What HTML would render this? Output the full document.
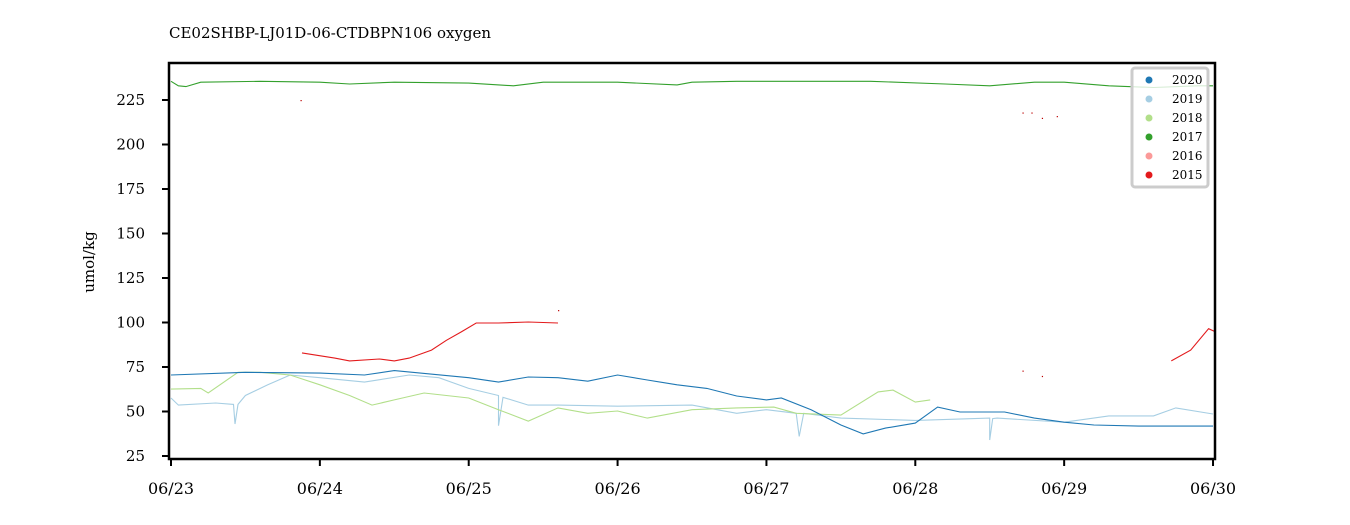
<!DOCTYPE html>
<html><head><meta charset="utf-8"><style>
body{margin:0;background:#fff;}
svg{display:block;font-family:"DejaVu Serif","Liberation Serif",serif;}
</style></head><body>
<svg id="chart" width="1350" height="525">
<text x="169" y="38" font-size="15">CE02SHBP-LJ01D-06-CTDBPN106 oxygen</text>
<text transform="translate(94,262) rotate(-90)" font-size="15" text-anchor="middle">umol/kg</text>
<g id="series"></g>
<rect x="169" y="63" width="1046" height="396" fill="none" stroke="#000" stroke-width="2.5"/>
<g id="axes"></g>
<g>
<rect x="1132" y="68" width="76" height="119" rx="3" fill="#fff" fill-opacity="0.8" stroke="#ccc" stroke-width="3"/>
<g id="legend"></g>
</g>
</svg>
<script>
const yTicks=[25,50,75,100,125,150,175,200,225];
const xTickLabels=["06/23","06/24","06/25","06/26","06/27","06/28","06/29","06/30"];
const legendYears=["2020","2019","2018","2017","2016","2015"];
const legendColors=["#1f78b4","#a6cee3","#b2df8a","#33a02c","#fb9a99","#e31a1c"];
// times in days since 06/23
const t2020=[0,0.5,1,1.3,1.5,2,2.2,2.4,2.6,2.8,3,3.2,3.4,3.6,3.8,4,4.1,4.3,4.5,4.65,4.8,5,5.15,5.3,5.6,5.8,6,6.2,6.5,7];
const v2020=[70.5,72,71.6,70.5,73,69,66.5,69.4,69,67,70.5,67.7,65,63,58.7,56.5,57.6,51,42.4,37.4,40.7,43.5,52.5,49.7,49.7,46.3,44,42.4,41.8,41.8];
const t2019=[0,0.05,0.3,0.42,0.43,0.45,0.5,0.65,0.8,1,1.3,1.6,1.8,2,2.2,2.2,2.23,2.4,2.6,3,3.5,3.8,4,4.2,4.22,4.25,4.5,5,5.5,5.5,5.52,5.55,6,6.3,6.6,6.75,7];
const v2019=[57.6,53.6,54.8,54,43,54,59,65,70.5,69,66.5,70.5,69,63,59,42,58,53.6,53.6,53,53.6,49,51,49,36,49,46.3,45,46.3,34,46,46.3,44,47.5,47.5,52,48.6];
const t2018=[0,0.2,0.25,0.45,0.6,0.8,1,1.2,1.35,1.5,1.7,2,2.2,2.4,2.6,2.8,3,3.2,3.5,3.8,4.05,4.2,4.5,4.75,4.85,5,5.1];
const v2018=[62.6,63,60.4,72,72,70.5,65,59,53.6,56.5,60.4,57.6,51,44.6,52,49,50.3,46.3,51,52,52.5,49,48,61,62,55.3,56.5];
const t2017=[0,0.05,0.1,0.2,0.6,1,1.2,1.5,2,2.3,2.5,3,3.4,3.5,3.8,4,4.7,5.2,5.5,5.8,6,6.3,6.6,6.9,7];
const v2017=[235.5,233,232.5,235,235.5,235,234,235,234.5,233,235,235,233.5,235,235.5,235.5,235.5,234,233,235,235,233,232,233,233];
const t2015a=[0.88,1.1,1.2,1.4,1.5,1.6,1.75,1.85,1.95,2.05,2.2,2.4,2.6];
const v2015a=[82.9,80,78.4,79.5,78.4,80,84.5,90,94.7,99.7,99.7,100.3,99.7];
const t2015b=[6.72,6.85,6.97,7.01];
const v2015b=[78.4,84.5,96.5,95];
const t2015pts=[0.87,2.6,5.72,5.78,5.85,5.95,5.72,5.85];
const v2015pts=[225,107,218,218,215,216,73,70];
const NS="http://www.w3.org/2000/svg";
const X=d=>171+d*148.86, Y=v=>456-(v-25)*1.78;
const ser=document.getElementById('series'),ax=document.getElementById('axes'),lg=document.getElementById('legend');
function line(ts,vs,col,name){const p=document.createElementNS(NS,'polyline');
p.setAttribute('points',ts.map((t,i)=>X(t).toFixed(1)+','+Y(vs[i]).toFixed(1)).join(' '));
p.setAttribute('fill','none');p.setAttribute('stroke',col);p.setAttribute('stroke-width','1.1');


ser.appendChild(p);}
line(t2019,v2019,'#a6cee3','series-2019');
line(t2018,v2018,'#b2df8a','series-2018');
line(t2020,v2020,'#1f78b4','series-2020');
line(t2017,v2017,'#33a02c','series-2017');
line(t2015a,v2015a,'#e31a1c','series-2015-a');
line(t2015b,v2015b,'#e31a1c','series-2015-b');
t2015pts.forEach((t,i)=>{const r=document.createElementNS(NS,'rect');r.setAttribute('x',X(t));r.setAttribute('y',Y(v2015pts[i]));r.setAttribute('width',1.2);r.setAttribute('height',1.2);r.setAttribute('fill','#b00');


ser.appendChild(r);});
yTicks.forEach(v=>{const y=Y(v);const l=document.createElementNS(NS,'line');l.setAttribute('x1',162);l.setAttribute('x2',169);l.setAttribute('y1',y);l.setAttribute('y2',y);l.setAttribute('stroke','#000');l.setAttribute('stroke-width','2');


ax.appendChild(l);
const tx=document.createElementNS(NS,'text');tx.setAttribute('x',145);tx.setAttribute('y',y+5);tx.setAttribute('text-anchor','end');tx.setAttribute('font-size','15');tx.textContent=v;


ax.appendChild(tx);});
xTickLabels.forEach((s,i)=>{const x=X(i);const l=document.createElementNS(NS,'line');l.setAttribute('x1',x);l.setAttribute('x2',x);l.setAttribute('y1',459);l.setAttribute('y2',466);l.setAttribute('stroke','#000');l.setAttribute('stroke-width','2');


ax.appendChild(l);
const tx=document.createElementNS(NS,'text');tx.setAttribute('x',x);tx.setAttribute('y',494);tx.setAttribute('text-anchor','middle');tx.setAttribute('font-size','16');tx.textContent=s;


ax.appendChild(tx);});
legendYears.forEach((s,i)=>{const y=80+i*19;const c=document.createElementNS(NS,'circle');c.setAttribute('cx',1149);c.setAttribute('cy',y);c.setAttribute('r',3.5);c.setAttribute('fill',legendColors[i]);


lg.appendChild(c);
const tx=document.createElementNS(NS,'text');tx.setAttribute('x',1172);tx.setAttribute('y',y+4);tx.setAttribute('font-size','12');tx.textContent=s;


lg.appendChild(tx);});
</script>
</body></html>
